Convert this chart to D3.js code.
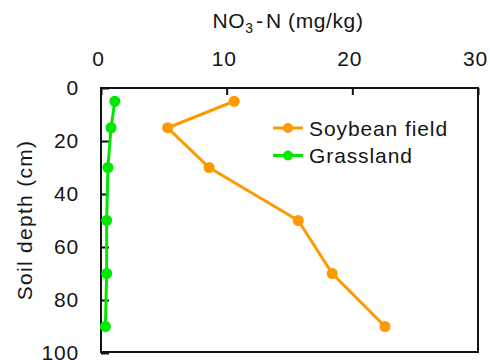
<!DOCTYPE html>
<html>
<head>
<meta charset="utf-8">
<script src="https://cdn.jsdelivr.net/npm/d3@7"></script>
<style>
  html, body { margin: 0; padding: 0; background: #fff; }
  svg { display: block; }
  text { font-family: "Liberation Sans", Arial, sans-serif; fill: #151515; }
</style>
</head>
<body>
<svg id="chart" width="490" height="360"></svg>
<script>
// NO3-N concentration (mg/kg) by soil depth (cm)
const depths = [5, 15, 30, 50, 70, 90];
const soybean = [10.6, 5.3, 8.6, 15.7, 18.4, 22.6];
const grassland = [1.1, 0.8, 0.55, 0.45, 0.45, 0.35];
const seriesNames = ["Soybean field", "Grassland"];
const seriesColors = ["#ff9900", "#00e800"];
const xTicks = [0, 10, 20, 30];
const yTicks = [0, 20, 40, 60, 80, 100];

const svg = d3.select("#chart");
const m = { left: 101, right: 478, top: 88, bottom: 352 };
const fs = 21;

const x = d3.scaleLinear().domain([0, 30]).range([m.left, m.right]);
const y = d3.scaleLinear().domain([0, 100]).range([m.top, m.top + 265]);

// frame
svg.append("rect")
  .attr("x", m.left).attr("y", m.top)
  .attr("width", m.right - m.left).attr("height", m.bottom - m.top)
  .attr("fill", "none").attr("stroke", "#111").attr("stroke-width", 2);

// top axis: ticks point into the plot
const xAxis = svg.append("g").attr("transform", `translate(0,${m.top})`)
  .call(d3.axisTop(x).tickValues(xTicks).tickSize(-7).tickPadding(22));
xAxis.select(".domain").remove();
xAxis.selectAll("line").attr("stroke", "#111").attr("stroke-width", 2);
xAxis.selectAll("text")
  .attr("font-size", fs).attr("letter-spacing", 0.8).attr("fill", "#151515")
  .attr("dx", -3)
  .attr("font-family", "Liberation Sans, Arial, sans-serif");

// left axis: ticks point into the plot
const yAxis = svg.append("g").attr("transform", `translate(${m.left},0)`)
  .call(d3.axisLeft(y).tickValues(yTicks).tickSize(-8).tickPadding(22));
yAxis.select(".domain").remove();
yAxis.selectAll("line").attr("stroke", "#111").attr("stroke-width", 2);
yAxis.selectAll("text")
  .attr("font-size", fs).attr("letter-spacing", 0.8).attr("fill", "#151515")
  .attr("font-family", "Liberation Sans, Arial, sans-serif");

// axis titles
const title = svg.append("text")
  .attr("x", 288).attr("y", 28)
  .attr("text-anchor", "middle")
  .attr("font-size", fs).attr("letter-spacing", 0.6);
title.append("tspan").text("NO");
title.append("tspan").text("3").attr("font-size", 14).attr("dy", 5);
title.append("tspan").text("\u200a-\u200aN (mg/kg)").attr("dy", -5);

svg.append("text")
  .attr("transform", `translate(32,${(m.top + m.bottom) / 2}) rotate(-90)`)
  .attr("text-anchor", "middle")
  .attr("font-size", fs).attr("letter-spacing", 1.3)
  .text("Soil depth (cm)");

// series
const line = d3.line().x(d => x(d[0])).y(d => y(d[1]));
[soybean, grassland].forEach((vals, i) => {
  const pts = vals.map((v, j) => [v, depths[j]]);
  svg.append("path").datum(pts)
    .attr("d", line).attr("fill", "none")
    .attr("stroke", seriesColors[i]).attr("stroke-width", 3);
  svg.selectAll(null).data(pts).enter().append("circle")
    .attr("cx", d => x(d[0])).attr("cy", d => y(d[1]))
    .attr("r", 5.5).attr("fill", seriesColors[i]);
});

// legend
seriesNames.forEach((name, i) => {
  const ly = 128 + i * 27.5;
  svg.append("line").attr("x1", 273).attr("x2", 303).attr("y1", ly).attr("y2", ly)
    .attr("stroke", seriesColors[i]).attr("stroke-width", 3);
  svg.append("circle").attr("cx", 288).attr("cy", ly).attr("r", 5).attr("fill", seriesColors[i]);
  svg.append("text").attr("x", 309).attr("y", ly + 7.5)
    .attr("font-size", fs).attr("letter-spacing", 0.9).text(name);
});
</script>
</body>
</html>
